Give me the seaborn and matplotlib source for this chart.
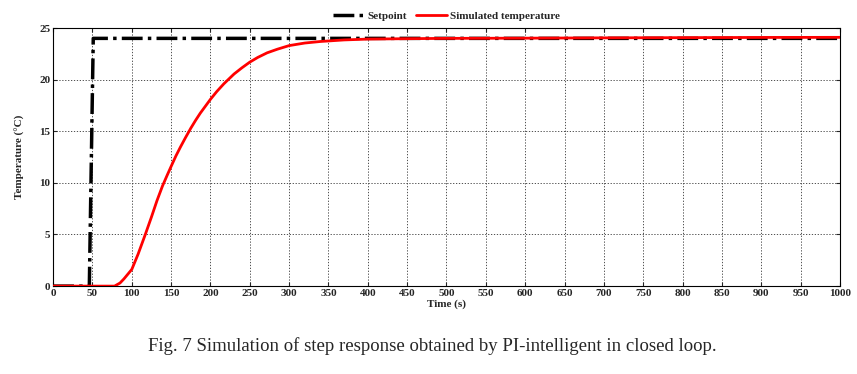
# step response of PI-intelligent controller
import numpy as np
import pandas as pd
import matplotlib
matplotlib.use("Agg")
import matplotlib.pyplot as plt
import seaborn as sns

# setpoint
sp_time = [0, 46, 51, 1000]
sp_temp = [0, 0, 24, 24]

# simulated temperature
sim_time = [0, 78, 85, 90, 100, 108, 117, 125, 132, 139, 145, 150, 156, 162, 168, 175, 181, 187, 200,
            208, 217, 230, 240, 250, 260, 272, 285, 300, 320, 340, 370, 400, 450, 500, 600, 700, 800, 900, 1000]
sim_temp = [0, 0, 0.3, 0.7, 1.62, 3.1, 4.97, 6.7, 8.28, 9.7, 10.75, 11.6, 12.6, 13.5, 14.35, 15.3, 16.05, 16.75, 18.1,
            18.85, 19.6, 20.55, 21.15, 21.7, 22.15, 22.6, 22.95, 23.3, 23.55, 23.7, 23.85, 23.93, 23.97, 24.0, 24.02, 24.05, 24.07, 24.09, 24.1]

sp = pd.DataFrame({'time': sp_time, 'temp': sp_temp})
sim = pd.DataFrame({'time': sim_time, 'temp': sim_temp})

sns.set_style("white")
plt.rcParams['font.family'] = ['Liberation Serif', 'DejaVu Serif']

fig = plt.figure(figsize=(8.57, 3.74), dpi=100)
ax = fig.add_axes([0.062, 0.235, 0.918, 0.69])

sns.lineplot(x='time', y='temp', data=sp, ax=ax, color='black', linewidth=2.5,
             linestyle=(0, (6, 1.5, 1, 1.5)), label='Setpoint', zorder=3)
sns.lineplot(x='time', y='temp', data=sim, ax=ax, color='red', linewidth=2,
             label='Simulated temperature', zorder=4)

ax.set_xlim(0, 1000)
ax.set_ylim(0, 25)
ax.set_xticks(np.arange(0, 1001, 50))
ax.set_yticks(np.arange(0, 26, 5))
ax.grid(True, color='#333333', linestyle=(0, (1.5, 2)), linewidth=0.6)
for s in ax.spines.values():
    s.set_color('black')
    s.set_linewidth(0.8)
ax.tick_params(axis='both', direction='in', length=3, labelsize=8, pad=2,
               top=True, right=True, bottom=True, left=True)
for lbl in ax.get_xticklabels() + ax.get_yticklabels():
    lbl.set_fontweight('bold')

ax.set_xlabel('Time (s)', fontsize=8, fontweight='bold', labelpad=1)
ax.set_ylabel('Temperature (°C)', fontsize=8, fontweight='bold', labelpad=10)

ax.legend(loc='lower center', bbox_to_anchor=(0.5, 1.0), ncol=2, frameon=False,
          prop={'weight': 'bold', 'size': 8}, handlelength=2.8, columnspacing=0.8,
          handletextpad=0.3, borderaxespad=0.2)

fig.text(0.505, 0.075, 'Fig. 7 Simulation of step response obtained by PI-intelligent in closed loop.',
         ha='center', va='center', fontsize=13.5)

plt.savefig('out.png', dpi=100)
